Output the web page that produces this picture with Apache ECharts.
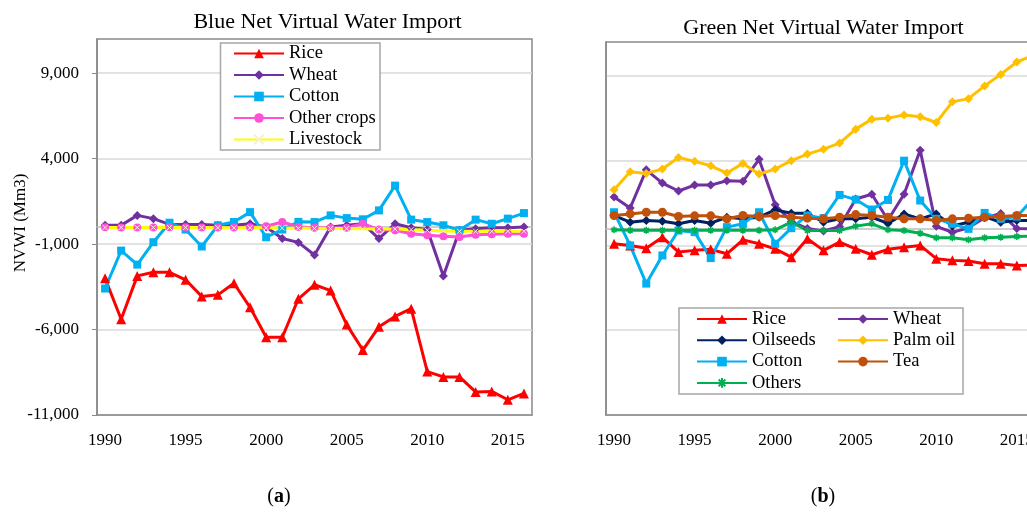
<!DOCTYPE html>
<html>
<head>
<meta charset="utf-8">
<script src="https://cdn.jsdelivr.net/npm/echarts@6/dist/echarts.min.js"></script>
<style>html,body{margin:0;padding:0;background:#fff;}#c{width:1027px;height:513px;}</style>
</head>
<body>
<div id="c"></div>
<script>
// ---- data ----
const years = ['1990','1991','1992','1993','1994','1995','1996','1997','1998','1999','2000','2001','2002','2003','2004','2005','2006','2007','2008','2009','2010','2011','2012','2013','2014','2015','2016'];
const yTicks = [-11000, -6000, -1000, 4000, 9000];

// (a) Blue net virtual water import
const blueRice = [-3000,-5400,-2860,-2650,-2650,-3090,-4060,-3970,-3290,-4700,-6450,-6450,-4200,-3380,-3720,-5710,-7200,-5840,-5230,-4780,-8460,-8770,-8770,-9650,-9620,-10110,-9740];
const blueWheat = [100,100,680,490,150,150,150,100,100,190,0,-670,-900,-1640,0,100,190,-680,190,-40,-150,-2870,-190,-100,-40,-40,0];
const blueCotton = [-3600,-1380,-2200,-890,250,-150,-1140,100,290,870,-600,-150,300,290,680,520,450,970,2420,430,290,100,-190,430,190,490,815];
const blueOther = [-20,-30,-30,-30,-20,-20,-30,-30,-30,-20,40,290,0,-40,-40,-40,190,-150,-190,-390,-480,-540,-580,-450,-430,-390,-390];
const blueLivestock = [-30,-30,-30,-30,-30,-30,-30,-40,-50,-50,-50,-60,-80,-80,-90,-90,-100,-110,-120,-150,-190,-230,-250,-250,-250,-250,-250];

// (b) Green net virtual water import
const greenRice = [-900,-1000,-1160,-510,-1390,-1290,-1230,-1490,-670,-900,-1200,-1690,-610,-1290,-800,-1200,-1550,-1230,-1100,-1000,-1780,-1880,-1920,-2080,-2080,-2180,-2150];
const greenWheat = [1860,1210,3460,2680,2210,2560,2560,2820,2780,4080,1400,420,0,-150,100,1740,2020,500,2020,4620,130,-220,40,640,880,0,-20];
const greenOilseeds = [765,370,470,430,275,470,315,665,570,665,1100,900,900,370,570,570,665,300,860,570,860,150,370,700,370,470,470];
const greenPalm = [2290,3350,3250,3510,4190,3960,3700,3270,3840,3210,3510,4000,4390,4680,5040,5860,6450,6510,6700,6590,6250,7470,7660,8410,9090,9820,10200];
const greenCotton = [960,-1000,-3250,-1590,-120,-215,-1745,80,275,960,-900,20,765,610,1980,1705,1120,1685,4000,1650,570,275,-20,920,570,700,1750];
const greenTea = [765,860,960,960,705,745,745,570,765,705,765,665,610,570,665,820,765,665,570,570,470,570,610,665,705,765,765];
const greenOthers = [-80,-100,-100,-100,-100,-100,-100,-100,-100,-100,-80,370,-120,-120,-120,140,275,-80,-120,-275,-550,-550,-665,-550,-510,-470,-450];

// ---- styling ----
const SERIF = '"Liberation Serif","Times New Roman",serif';
const AXIS_GRAY = '#898989';
const GRID_GRAY = '#d9d9d9';
const C = {rice:'#ff0000', wheat:'#7030a0', cotton:'#00b0f0', other:'#ff50d8', live:'#ffff00',
           oil:'#002060', palm:'#ffc000', tea:'#c0500a', others:'#00b050'};
const X_PATH = 'path://M0,0L10,10M0,10L10,0';
const AST_PATH = 'path://M5,0L5,10M0,5L10,5M1.5,1.5L8.5,8.5M8.5,1.5L1.5,8.5';

function line(name, data, color, symbol, size, gi, extra) {
  const s = {
    name, type:'line', data, xAxisIndex: gi, yAxisIndex: gi,
    symbol, symbolSize: size, showSymbol: true,
    lineStyle: {color, width: 3},
    itemStyle: {color},
    emphasis: {disabled: true},
    animation: false
  };
  return Object.assign(s, extra || {});
}

const fmt = v => v.toLocaleString('en-US');

function xAx(gi) {
  return {type:'category', gridIndex: gi, data: years, boundaryGap: true, position:'bottom',
    axisLine:{show:true, onZero:false, lineStyle:{color:AXIS_GRAY, width:1.5}},
    axisTick:{show:false},
    axisLabel:{interval:4, margin:17, fontFamily:SERIF, fontSize:17, color:'#000'},
    splitLine:{show:false}};
}
function zeroAx(gi) {
  return {type:'category', gridIndex: gi, data: years, boundaryGap: true, position:'bottom',
    axisLine:{show:true, onZero:true, lineStyle:{color:'#bfbfbf', width:1.5}},
    axisTick:{show:false}, axisLabel:{show:false}, splitLine:{show:false}};
}
function yAx(gi, labels) {
  return {type:'value', gridIndex: gi, min: yTicks[0], max: 11000, interval: 5000,
    axisLine:{show:true, lineStyle:{color:AXIS_GRAY, width:1.5}},
    axisTick:{show:labels, length:5, customValues: yTicks, lineStyle:{color:AXIS_GRAY}},
    axisLabel:{show:labels, customValues: yTicks, formatter: fmt, margin:18, fontFamily:SERIF, fontSize:17, color:'#000'},
    splitLine:{show:true, lineStyle:{color:GRID_GRAY, width:1.5}}};
}

const legendText = {fontFamily:SERIF, fontSize:18.5, lineHeight:19, color:'#000'};
function legend(names, left, top, gap) {
  return {data: names, orient:'vertical', left, top, itemGap: gap, itemWidth:50, itemHeight:12,
    padding:0, selectedMode:false, textStyle: legendText, z: 10};
}

const option = {
  animation:false,
  backgroundColor:'#fff',
  grid:[
    {left:97, top:39, width:435, height:376, show:true, borderColor:AXIS_GRAY, borderWidth:1.5, containLabel:false, outerBoundsMode:'none'},
    {left:606, top:42, width:435, height:373, show:true, borderColor:AXIS_GRAY, borderWidth:1.5, containLabel:false, outerBoundsMode:'none'}
  ],
  xAxis:[xAx(0), xAx(1), zeroAx(0), zeroAx(1)],
  yAxis:[yAx(0,true), yAx(1,false)],
  legend:[
    legend(['Rice','Wheat','Cotton','Other crops','Livestock'], 233, 44, 2.5),
    legend(['Rice','Oilseeds','Cotton','Others'], 696, 309.5, 2.3),
    legend(['Wheat','Palm oil','Tea'], 837, 309.5, 2.3)
  ],
  graphic:[
    {type:'rect', z:5, shape:{x:220.5, y:43, width:159.5, height:107}, style:{fill:'#fff', stroke:'#a6a6a6', lineWidth:1.5}},
    {type:'rect', z:5, shape:{x:679, y:308, width:284, height:86}, style:{fill:'#fff', stroke:'#a6a6a6', lineWidth:1.5}},
    {type:'text', x:327.5, y:22, style:{text:'Blue Net Virtual Water Import', font:'22px '+SERIF, fill:'#000', textAlign:'center', textVerticalAlign:'middle'}},
    {type:'text', x:823.5, y:28, style:{text:'Green Net Virtual Water Import', font:'22px '+SERIF, fill:'#000', textAlign:'center', textVerticalAlign:'middle'}},
    {type:'text', x:20.5, y:223, rotation:Math.PI/2, style:{text:'NVWI (Mm3)', font:'17px '+SERIF, fill:'#000', textAlign:'center', textVerticalAlign:'middle'}},
    {type:'text', x:279, y:497, style:{text:'({b|a})', font:'20px '+SERIF, fill:'#000', textAlign:'center', textVerticalAlign:'middle',
      rich:{b:{fontWeight:'bold', fontFamily:SERIF, fontSize:20}}}},
    {type:'text', x:823, y:497, style:{text:'({b|b})', font:'20px '+SERIF, fill:'#000', textAlign:'center', textVerticalAlign:'middle',
      rich:{b:{fontWeight:'bold', fontFamily:SERIF, fontSize:20}}}}
  ],
  series:[
    line('Rice', blueRice, C.rice, 'triangle', 10, 0),
    line('Wheat', blueWheat, C.wheat, 'diamond', 9, 0),
    line('Cotton', blueCotton, C.cotton, 'rect', 8, 0),
    line('Other crops', blueOther, C.other, 'circle', 8, 0),
    line('Livestock', blueLivestock, C.live, X_PATH, 5, 0, {itemStyle:{color:C.live, borderColor:'#f5f0c8', borderWidth:1}}),

    line('Rice', greenRice, C.rice, 'triangle', 10, 1),
    line('Wheat', greenWheat, C.wheat, 'diamond', 9, 1),
    line('Oilseeds', greenOilseeds, C.oil, 'diamond', 9, 1),
    line('Palm oil', greenPalm, C.palm, 'diamond', 9, 1),
    line('Cotton', greenCotton, C.cotton, 'rect', 8, 1),
    line('Tea', greenTea, C.tea, 'circle', 9, 1),
    line('Others', greenOthers, C.others, AST_PATH, 7, 1, {itemStyle:{color:C.others, borderColor:C.others, borderWidth:1.5}})
  ]
};

const chart = echarts.init(document.getElementById('c'), null, {renderer:'canvas'});
chart.setOption(option);
</script>
</body>
</html>
